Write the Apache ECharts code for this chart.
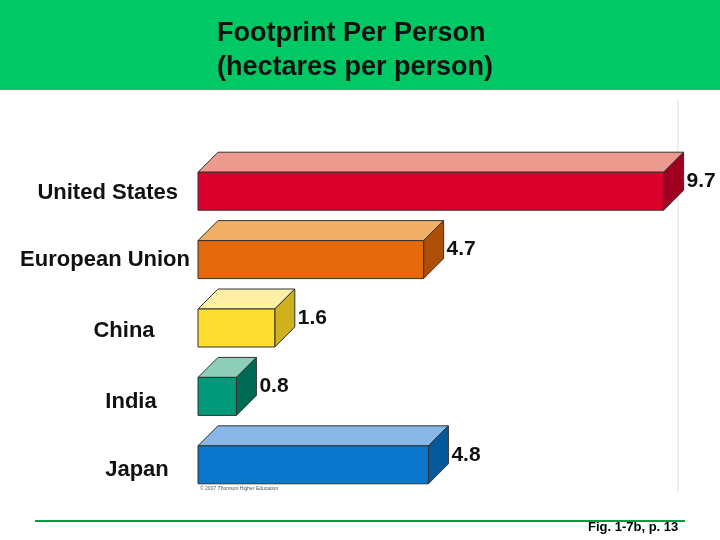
<!DOCTYPE html>
<html><head><meta charset="utf-8">
<script src="https://cdn.jsdelivr.net/npm/echarts@6/dist/echarts.min.js"></script>
<style>html,body{margin:0;padding:0;background:#fff}#c{width:720px;height:540px}</style>
</head><body><div id="c"></div>
<script>
const categories = ['United States','European Union','China','India','Japan'];
const values = [9.7, 4.7, 1.6, 0.8, 4.8];
const frontColors = ['#d9002b','#e4690c','#fedd30','#009a7a','#0877cc'];
const topColors = ['#ec9a8e','#f2b066','#fdefa6','#8ecfba','#88b6e6'];
const sideColors = ['#a0001f','#ad4f08','#cfb11e','#006b55','#05599a'];
const labelX = [178, 190, 124, 131, 137];
const labelAlign = ['right','right','center','center','center'];
const labelDy = [4, 2, 5, 8, 7];

const chart = echarts.init(document.getElementById('c'));
chart.setOption({
  animation:false,
  graphic:[
    {type:'rect',shape:{x:0,y:0,width:720,height:90},style:{fill:'#00c864'},z:0},
    {type:'text',left:217,top:17,style:{text:'Footprint Per Person\n(hectares per person)',font:'bold 27px "Liberation Sans",Arial',fill:'#111',lineHeight:34,align:'left'}},
    {type:'line',shape:{x1:678,y1:100,x2:678,y2:492},style:{stroke:'#ddd',lineWidth:1}},
    {type:'line',shape:{x1:35,y1:521,x2:685,y2:521},style:{stroke:'#00a040',lineWidth:2}},
    {type:'text',left:588,top:521,style:{text:'Fig. 1-7b, p. 13',font:'bold 13px "Liberation Sans",Arial',fill:'#000'}},
    {type:'text',left:200,top:486,style:{text:'© 2007 Thomson Higher Education',font:'5px "Liberation Sans",Arial',fill:'#555'}}
  ],
  grid:{left:198,right:42,top:155,bottom:43},
  xAxis:{type:'value',min:0,max:10,show:false},
  yAxis:{type:'category',inverse:true,data:categories,show:false},
  series:[{
    type:'custom',
    data:values.map((v,i)=>[v,i]),
    renderItem:function(params,api){
      const i=params.dataIndex;
      const p0=api.coord([0,api.value(1)]);
      const p1=api.coord([api.value(0),api.value(1)]);
      const h=38, d=20;
      const x0=p0[0], x1=p1[0], yt=p0[1]-h/2+2, yb=yt+h;
      const st={stroke:'#333',lineWidth:1};
      return {type:'group',children:[
        {type:'polygon',shape:{points:[[x0,yt],[x0+d,yt-d],[x1+d,yt-d],[x1,yt]]},style:Object.assign({fill:topColors[i]},st)},
        {type:'polygon',shape:{points:[[x1,yt],[x1+d,yt-d],[x1+d,yb-d],[x1,yb]]},style:Object.assign({fill:sideColors[i]},st)},
        {type:'rect',shape:{x:x0,y:yt,width:x1-x0,height:h},style:Object.assign({fill:frontColors[i]},st)},
        {type:'text',x:x1+d+3,y:yt+9,style:{text:String(values[i]),font:'bold 21px "Liberation Sans",Arial',fill:'#111',verticalAlign:'middle'}},
        {type:'text',x:labelX[i],y:p0[1]+labelDy[i],style:{text:categories[i],font:'bold 22px "Liberation Sans",Arial',fill:'#111',align:labelAlign[i],verticalAlign:'middle'}}
      ]};
    }
  }]
});
</script></body></html>
